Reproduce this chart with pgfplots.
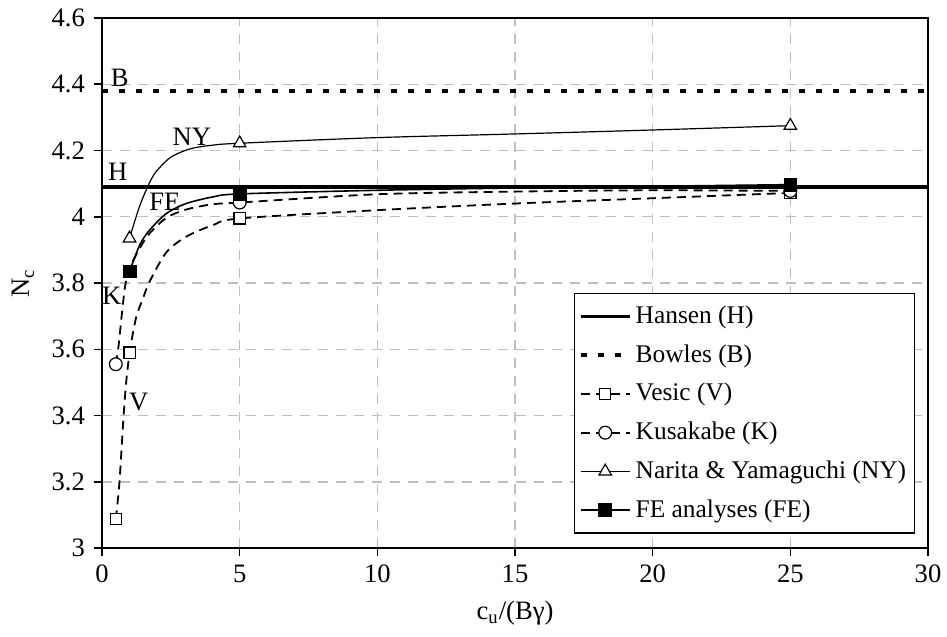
\documentclass[border=0pt]{standalone}
\usepackage{fontspec}
\setmainfont{Liberation Serif}
\usepackage{pgfplots}
\pgfplotsset{compat=1.18}
\usetikzlibrary{calc}
\begin{document}
\fontsize{13}{15}\selectfont
\begin{tikzpicture}
\begin{axis}[
  name=ax,
  scale only axis,
  width=412.9pt, height=265pt,
  xmin=0, xmax=30, ymin=3, ymax=4.6,
  xtick={0,5,10,15,20,25,30},
  ytick={3,3.2,3.4,3.6,3.8,4,4.2,4.4,4.6},
  tick align=outside, tick pos=left, major tick length=4pt,
  grid=major,
  major grid style={black!25, line width=0.7pt, dash pattern=on 5pt off 4pt},
  axis line style={line width=0.8pt},
  tick style={black, line width=0.8pt},
  tick label style={font=\fontsize{13.3}{15}\selectfont},
  /pgf/number format/assume math mode=true,
  xlabel={c\textsubscript{u}/(Bγ)},
  ylabel={N\textsubscript{c}},
  label style={font=\fontsize{13.3}{15}\selectfont},
  legend style={at={(0.984,0.481)}, anchor=north east, draw=black, line width=0.6pt,
    font=\fontsize{12.7}{15}\selectfont, cells={anchor=west}, row sep=4.6pt,
    inner xsep=2pt, inner ysep=4pt},
  legend image code/.code={\draw[mark repeat=2,mark phase=2,#1] plot coordinates {(0cm,0cm) (0.43cm,0cm) (0.86cm,0cm)};},
]
% Hansen
\addplot[black, line width=1.6pt, forget plot] coordinates {(0,4.09) (30,4.09)};
% Bowles
\addplot[black, line width=2pt, dash pattern=on 3pt off 5.5pt, forget plot] coordinates {(0,4.38) (30,4.38)};
% Vesic
\addplot[black, line width=0.9pt, dash pattern=on 4.5pt off 3pt, smooth, tension=0.5, forget plot] coordinates {
 (0.5,3.087) (0.62,3.185) (0.715,3.306) (0.79,3.407) (0.885,3.507) (1.0,3.59) (1.07,3.625)
 (1.25,3.70) (1.49,3.754) (1.73,3.805) (2.34,3.893) (3.06,3.94) (4.03,3.975) (5,3.995)
 (10,4.02) (15,4.04) (20,4.056) (25,4.072)};
% Kusakabe
\addplot[black, line width=0.9pt, dash pattern=on 4.5pt off 3pt, smooth, tension=0.5, forget plot] coordinates {
 (0.5,3.555) (0.6,3.61) (0.7,3.69) (0.82,3.78) (0.9,3.815) (1.0,3.845) (1.37,3.905)
 (1.73,3.95) (2.34,3.997) (3.06,4.022) (4.03,4.038) (5,4.043) (10,4.068) (15,4.076)
 (20,4.08) (25,4.078)};
% Narita & Yamaguchi
\addplot[black, line width=0.6pt, smooth, tension=0.5, forget plot] coordinates {
 (1.0,3.935) (1.2,3.99) (1.4,4.04) (1.6,4.08) (1.8,4.115) (2.0,4.14) (2.5,4.18)
 (3.2,4.205) (4,4.216) (5,4.222) (10,4.239) (15,4.25) (20,4.262) (25,4.275)};
% FE
\addplot[black, line width=0.8pt, smooth, tension=0.5, forget plot] coordinates {
 (1.0,3.835) (1.37,3.915) (1.73,3.96) (2.34,4.01) (3.06,4.04) (4.03,4.06) (5,4.069)
 (10,4.08) (15,4.087) (20,4.092) (25,4.097)};
% markers
\addplot[only marks, mark=square*, mark size=2.8pt, mark options={fill=white, draw=black, solid, line width=0.6pt}, forget plot]
 coordinates {(0.5,3.087) (1,3.59) (5,3.995) (25,4.072)};
\addplot[only marks, mark=*, mark size=3.2pt, mark options={fill=white, draw=black, solid, line width=0.6pt}, forget plot]
 coordinates {(0.5,3.555) (5,4.043) (25,4.078)};
\addplot[only marks, mark=triangle*, mark size=3.6pt, mark options={fill=white, draw=black, solid, line width=0.6pt}, forget plot]
 coordinates {(1,3.935) (5,4.222) (25,4.275)};
\addplot[only marks, mark=square*, mark size=3.2pt, mark options={fill=black, draw=black, solid}, forget plot]
 coordinates {(1,3.835) (5,4.069) (25,4.097)};
% labels
\node[font=\fontsize{13.3}{15}\selectfont] at (axis cs:0.64,4.42) {B};
\node[font=\fontsize{13.3}{15}\selectfont] at (axis cs:0.57,4.135) {H};
\node[font=\fontsize{13.3}{15}\selectfont] at (axis cs:3.26,4.241) {NY};
\node[font=\fontsize{13.3}{15}\selectfont] at (axis cs:2.28,4.045) {FE};
\node[font=\fontsize{13.3}{15}\selectfont] at (axis cs:0.35,3.761) {K};
\node[font=\fontsize{13.3}{15}\selectfont] at (axis cs:1.33,3.44) {V};
% legend
\addlegendimage{black, line width=1.6pt}
\addlegendentry{Hansen (H)}
\addlegendimage{black, line width=2pt, dash pattern=on 3pt off 5.5pt}
\addlegendentry{Bowles (B)}
\addlegendimage{black, line width=0.9pt, dash pattern=on 4.5pt off 3pt, mark=square*, mark size=2.8pt, mark options={fill=white, solid, line width=0.6pt}}
\addlegendentry{Vesic (V)}
\addlegendimage{black, line width=0.9pt, dash pattern=on 4.5pt off 3pt, mark=*, mark size=3.2pt, mark options={fill=white, solid, line width=0.6pt}}
\addlegendentry{Kusakabe (K)}
\addlegendimage{black, line width=0.6pt, mark=triangle*, mark size=3.6pt, mark options={fill=white, solid, line width=0.6pt}}
\addlegendentry{Narita \& Yamaguchi (NY)}
\addlegendimage{black, line width=0.8pt, mark=square*, mark size=3.2pt, mark options={fill=black, solid}}
\addlegendentry{FE analyses (FE)}
\end{axis}
\pgfresetboundingbox
\path[use as bounding box] ($(ax.south west)+(-51pt,-44pt)$) rectangle ($(ax.north east)+(9.5pt,9pt)$);
\end{tikzpicture}
\end{document}
